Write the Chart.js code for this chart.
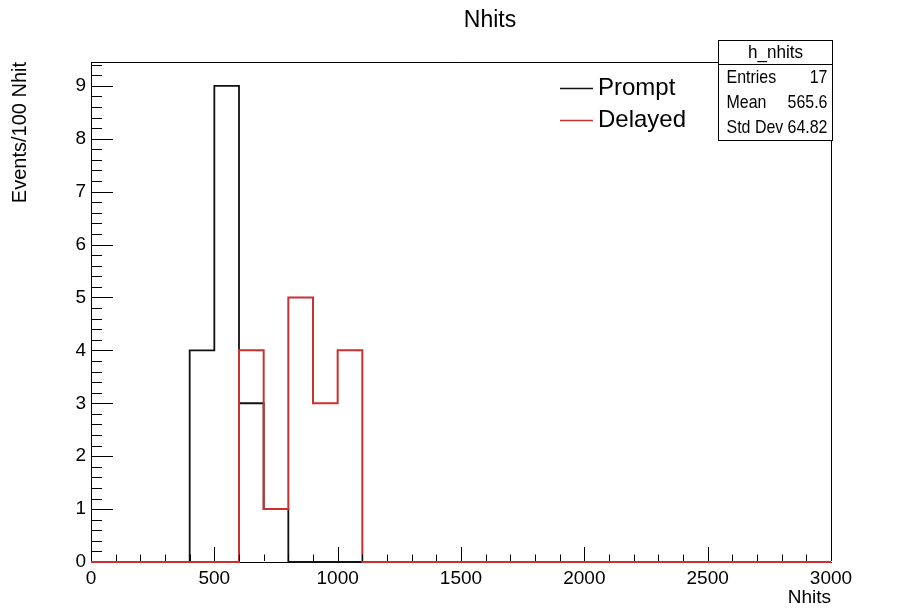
<!DOCTYPE html>
<html>
<head>
<meta charset="utf-8">
<title>Nhits</title>
<script src="https://cdn.jsdelivr.net/npm/chart.js@4.4.0/dist/chart.umd.min.js"></script>
<style>
  body { margin: 0; background: #fff; }
  #wrap { width: 913px; height: 610px; }
</style>
</head>
<body>
<div id="wrap"><canvas id="myChart" width="913" height="610"></canvas></div>
<script>
// histogram binning (100 Nhit per bin, 0 - 3000)
const binWidth = 100;
const binLowEdges = [0, 100, 200, 300, 400, 500, 600, 700, 800, 900,
  1000, 1100, 1200, 1300, 1400, 1500, 1600, 1700, 1800, 1900,
  2000, 2100, 2200, 2300, 2400, 2500, 2600, 2700, 2800, 2900];

// bin contents
const promptCounts = [0, 0, 0, 0, 4, 9, 3, 1, 0, 0,
  0, 0, 0, 0, 0, 0, 0, 0, 0, 0,
  0, 0, 0, 0, 0, 0, 0, 0, 0, 0];
const delayedCounts = [0, 0, 0, 0, 0, 0, 4, 1, 5, 3,
  4, 0, 0, 0, 0, 0, 0, 0, 0, 0,
  0, 0, 0, 0, 0, 0, 0, 0, 0, 0];

const xTickValues = [0, 500, 1000, 1500, 2000, 2500, 3000];
const xTickLabels = ['0', '500', '1000', '1500', '2000', '2500', '3000'];
const yTickValues = [0, 1, 2, 3, 4, 5, 6, 7, 8, 9];
const yTickLabels = ['0', '1', '2', '3', '4', '5', '6', '7', '8', '9'];

const statsTitle = 'h_nhits';
const statsRows = [['Entries', '17'], ['Mean', '565.6'], ['Std Dev', '64.82']];

const FONT = "'Liberation Sans', Arial, Helvetica, sans-serif";
const RED = '#cc2f2f';
const BLACK = '#111';

// turn bin contents into step points (low edges + closing edge)
function histPoints(counts){
  let pts = binLowEdges.map((x, i) => ({x: x, y: counts[i]}));
  let last = binLowEdges.length - 1;
  pts.push({x: binLowEdges[last] + binWidth, y: counts[last]});
  return pts;
}

// draw text squeezed a bit horizontally (ROOT stats box look)
function narrowText(ctx, txt, x, y, align, sx){
  ctx.save();
  ctx.translate(x, y);
  ctx.scale(sx, 1);
  ctx.textAlign = align;
  ctx.fillText(txt, 0, 0);
  ctx.restore();
}

// ROOT style ticks (inside the frame) + frame top/right
const rootAxes = {
  id: 'rootAxes',
  afterDatasetsDraw(chart){
    const {ctx, chartArea: a, scales: {x, y}} = chart;
    ctx.save();
    ctx.strokeStyle = '#000';
    ctx.lineWidth = 1;
    ctx.beginPath();
    ctx.moveTo(a.left, a.top + 0.5);
    ctx.lineTo(a.right + 0.5, a.top + 0.5);
    ctx.lineTo(a.right + 0.5, a.bottom - 1);
    // x ticks: major 500, minor 100
    for (let v = 0; v <= 3000; v += 100){
      let px = Math.round(x.getPixelForValue(v)) + 0.5;
      let len = (v % 500 === 0) ? 15 : 7.5;
      ctx.moveTo(px, a.bottom - 1);
      ctx.lineTo(px, a.bottom - len);
    }
    // y ticks: major 1, minor 0.2
    for (let k = 1; k <= 47; k++){
      let py = Math.round(y.getPixelForValue(k * 0.2)) + 0.5;
      let len = (k % 5 === 0) ? 22 : 11;
      ctx.moveTo(a.left, py);
      ctx.lineTo(a.left + len, py);
    }
    ctx.stroke();
    ctx.restore();
  },
  afterDraw(chart){
    const {ctx} = chart;
    ctx.save();

    // title
    ctx.fillStyle = '#000';
    ctx.font = '23px ' + FONT;
    ctx.textAlign = 'center';
    ctx.textBaseline = 'middle';
    ctx.fillText('Nhits', 490, 21);

    // legend
    ctx.lineWidth = 1.5;
    ctx.strokeStyle = BLACK;
    ctx.beginPath(); ctx.moveTo(560, 88.5); ctx.lineTo(593, 88.5); ctx.stroke();
    ctx.strokeStyle = RED;
    ctx.beginPath(); ctx.moveTo(560, 120.5); ctx.lineTo(593, 120.5); ctx.stroke();
    ctx.font = '24px ' + FONT;
    ctx.textAlign = 'left';
    ctx.fillText('Prompt', 598, 88);
    ctx.fillText('Delayed', 598, 120);

    // stats box
    let bx = 718.5, by = 40.5, bw = 114, bh = 100;
    ctx.fillStyle = '#fff';
    ctx.fillRect(bx, by, bw, bh);
    ctx.strokeStyle = '#000';
    ctx.lineWidth = 1;
    ctx.strokeRect(bx, by, bw, bh);
    ctx.beginPath(); ctx.moveTo(bx, 64.5); ctx.lineTo(bx + bw, 64.5); ctx.stroke();
    ctx.fillStyle = '#000';
    ctx.font = '19px ' + FONT;
    narrowText(ctx, statsTitle, bx + bw / 2, 53, 'center', 0.9);
    statsRows.forEach((row, i) => {
      let ry = 78 + i * 25;
      narrowText(ctx, row[0], bx + 8, ry, 'left', 0.84);
      narrowText(ctx, row[1], bx + bw - 5, ry, 'right', 0.84);
    });
    ctx.restore();
  }
};

function makeChart(){
  const data = {
    datasets: [{
      label: 'Delayed',
      data: histPoints(delayedCounts),
      borderColor: RED,
      borderWidth: 2,
      stepped: 'before',
      pointRadius: 0,
      fill: false,
      clip: 3,
      order: 0
    }, {
      label: 'Prompt',
      data: histPoints(promptCounts),
      borderColor: BLACK,
      borderWidth: 1.8,
      stepped: 'before',
      pointRadius: 0,
      fill: false,
      clip: 3,
      order: 1
    }]
  };

  return new Chart(document.getElementById('myChart'), {
    type: 'line',
    data: data,
    options: {
      responsive: false,
      animation: false,
      devicePixelRatio: 1,
      layout: { padding: { top: 62, right: 82, bottom: 0, left: 0 } },
      plugins: { legend: { display: false }, tooltip: { enabled: false }, title: { display: false } },
      scales: {
        x: {
          type: 'linear',
          min: 0,
          max: 3000,
          afterFit: s => { s.height = 48; },
          afterBuildTicks: s => { s.ticks = xTickValues.map(v => ({value: v})); },
          grid: { display: false, drawTicks: false },
          border: { display: true, color: '#000', width: 1 },
          ticks: {
            padding: 5,
            maxRotation: 0,
            color: '#000',
            font: { family: FONT, size: 19 },
            callback: (v) => xTickLabels[xTickValues.indexOf(v)]
          },
          title: {
            display: true,
            text: 'Nhits',
            align: 'end',
            color: '#000',
            font: { family: FONT, size: 19 },
            padding: { top: 0, bottom: 1 }
          }
        },
        y: {
          type: 'linear',
          min: 0,
          max: 9.45,
          afterFit: s => { s.width = 91; },
          afterBuildTicks: s => { s.ticks = yTickValues.map(v => ({value: v})); },
          grid: { display: false, drawTicks: false },
          border: { display: true, color: '#000', width: 1 },
          ticks: {
            padding: 5,
            color: '#000',
            font: { family: FONT, size: 19 },
            callback: (v) => yTickLabels[yTickValues.indexOf(v)]
          },
          title: {
            display: true,
            text: 'Events/100 Nhit',
            align: 'end',
            color: '#000',
            font: { family: FONT, size: 20 },
            padding: { top: 8, bottom: 0 }
          }
        }
      }
    },
    plugins: [rootAxes]
  });
}

makeChart();
</script>
</body>
</html>
